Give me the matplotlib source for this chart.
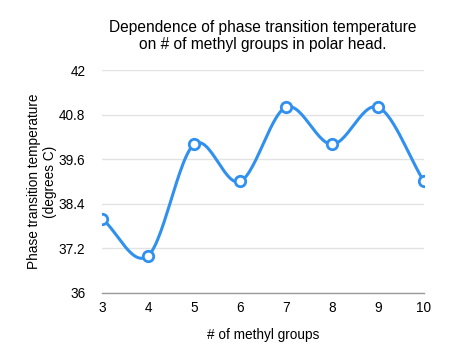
import numpy as np
import matplotlib
matplotlib.use("Agg")
import matplotlib.pyplot as plt

plt.rcParams['font.family'] = ['Liberation Sans', 'DejaVu Sans']

methyl_groups = [3, 4, 5, 6, 7, 8, 9, 10]
temperature = [38, 37, 40, 39, 41, 40, 41, 39]
y_ticks = [36, 37.2, 38.4, 39.6, 40.8, 42]
y_tick_labels = ["36", "37.2", "38.4", "39.6", "40.8", "42"]

BLUE = "#3090f0"


def catmull_rom(xs, ys, n=30):
    # smooth curve through the points (like the spreadsheet's smoothed line)
    xs = np.asarray(xs, float)
    ys = np.asarray(ys, float)
    px = np.concatenate([[2 * xs[0] - xs[1]], xs, [2 * xs[-1] - xs[-2]]])
    py = np.concatenate([[2 * ys[0] - ys[1]], ys, [2 * ys[-1] - ys[-2]]])
    out_x, out_y = [], []
    t = np.linspace(0, 1, n)
    for i in range(1, len(px) - 2):
        for p, out in ((px, out_x), (py, out_y)):
            p0, p1, p2, p3 = p[i - 1], p[i], p[i + 1], p[i + 2]
            m1 = (p2 - p0) / 2
            m2 = (p3 - p1) / 2
            h00 = 2 * t**3 - 3 * t**2 + 1
            h10 = t**3 - 2 * t**2 + t
            h01 = -2 * t**3 + 3 * t**2
            h11 = t**3 - t**2
            out.extend(h00 * p1 + h10 * m1 + h01 * p2 + h11 * m2)
    return np.array(out_x), np.array(out_y)


fig = plt.figure(figsize=(4.5, 3.49), dpi=100)
ax = fig.add_axes([0.2267, 0.1605, 0.7155, 0.6389])

sx, sy = catmull_rom(methyl_groups, temperature)
ax.plot(sx, sy, color=BLUE, lw=2.2, solid_capstyle='round', zorder=3)
ax.plot(methyl_groups, temperature, 'o', ms=7.5, mfc='white', mec=BLUE, mew=2.0, zorder=4)

ax.set_xlim(3, 10)
ax.set_ylim(36, 42)
ax.set_yticks(y_ticks)
ax.set_yticklabels(y_tick_labels)
ax.set_xticks(methyl_groups)
ax.tick_params(length=0, labelsize=9.8, colors='black', pad=6)
ax.tick_params(axis='y', pad=12)
ax.grid(axis='y', color='#e3e3e3', lw=1)
ax.set_axisbelow(True)
for s in ['top', 'right', 'left']:
    ax.spines[s].set_visible(False)
ax.spines['bottom'].set_color('#9a9a9a')
ax.spines['bottom'].set_linewidth(1)
ax.spines['bottom'].set_zorder(2)

ax.set_title("Dependence of phase transition temperature\non # of methyl groups in polar head.",
             fontsize=11.2, pad=15, linespacing=1.2)
ax.set_xlabel("# of methyl groups", fontsize=9.8, labelpad=9)
ax.set_ylabel("Phase transition temperature\n(degrees C)", fontsize=9.8, labelpad=1, linespacing=1.2)

fig.savefig("out.png", dpi=100)
